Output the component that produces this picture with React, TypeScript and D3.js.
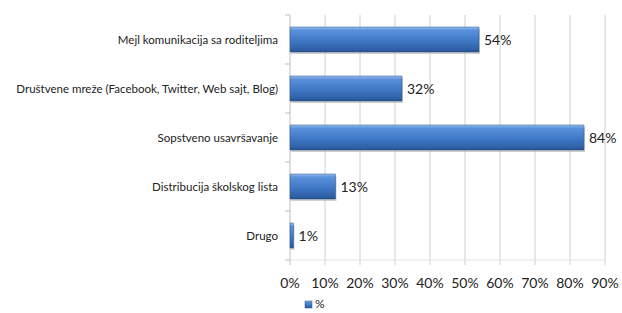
import { scaleLinear, scaleBand } from "d3";

const categories = [
  "Mejl komunikacija sa roditeljima",
  "Društvene mreže (Facebook, Twitter, Web sajt, Blog)",
  "Sopstveno usavršavanje",
  "Distribucija školskog lista",
  "Drugo",
];
const values = [54, 32, 84, 13, 1];
const ticks = [0, 10, 20, 30, 40, 50, 60, 70, 80, 90];
const seriesName = "%";

const font = "Lato, 'Open Sans', sans-serif";

export default function App() {
  const width = 622;
  const height = 313;
  const left = 290;
  const right = 605;
  const top = 15;
  const bottom = 260;

  const x = scaleLinear().domain([0, 90]).range([left, right]);
  const y = scaleBand()
    .domain(categories)
    .range([top, bottom])
    .paddingInner(0.49)
    .paddingOuter(0.245);
  const step = y.step();
  const bounds = categories.map((_, i) => top + i * step).concat([bottom]);

  return (
    <svg
      width={width}
      height={height}
      style={{ position: "absolute", left: 0, top: 0, background: "#fff" }}
      fontFamily={font}
    >
      <defs>
        <linearGradient id="bar" x1="0" y1="0" x2="0" y2="1">
          <stop offset="0" stopColor="#9cc0ee" />
          <stop offset="0.12" stopColor="#5b92db" />
          <stop offset="0.55" stopColor="#3f78c6" />
          <stop offset="0.9" stopColor="#2f60a6" />
          <stop offset="1" stopColor="#24528f" />
        </linearGradient>
      </defs>
      {ticks.slice(1).map((t) => (
        <line key={t} x1={x(t)} x2={x(t)} y1={top} y2={bottom + 5} stroke="#d0d0d0" />
      ))}
      <line x1={left} x2={left} y1={top} y2={bottom + 5} stroke="#bdbdbd" />
      <line x1={left} x2={right} y1={bottom} y2={bottom} stroke="#e2e2e2" />
      {bounds.map((b, i) => (
        <line key={i} x1={left - 5} x2={left} y1={b} y2={b} stroke="#bdbdbd" />
      ))}
      {categories.map((c, i) => {
        const yy = y(c)!;
        const bw = y.bandwidth();
        return (
          <g key={c}>
            <rect x={x(0) + 1} y={yy + 2} width={x(values[i]) - x(0)} height={bw} fill="#a0a0a0" opacity={0.5} />
            <rect x={x(0)} y={yy} width={x(values[i]) - x(0)} height={bw} fill="url(#bar)" stroke="#2a5590" strokeWidth={0.5} />
            <text x={x(values[i]) + 5} y={yy + bw / 2} dy="0.36em" fontSize={14} fill="#222">
              {values[i]}%
            </text>
            <text x={left - 12} y={yy + bw / 2} dy="0.35em" fontSize={11.5} textAnchor="end" fill="#222">
              {c}
            </text>
          </g>
        );
      })}
      {ticks.map((t) => (
        <text key={t} x={x(t)} y={283} dy="0.35em" fontSize={14} textAnchor="middle" fill="#222">
          {t}%
        </text>
      ))}
      <rect x={305} y={301} width={7} height={7} fill="url(#bar)" stroke="#2a5590" strokeWidth={0.5} />
      <text x={315} y={304} dy="0.35em" fontSize={12} fill="#222">
        {seriesName}
      </text>
    </svg>
  );
}
